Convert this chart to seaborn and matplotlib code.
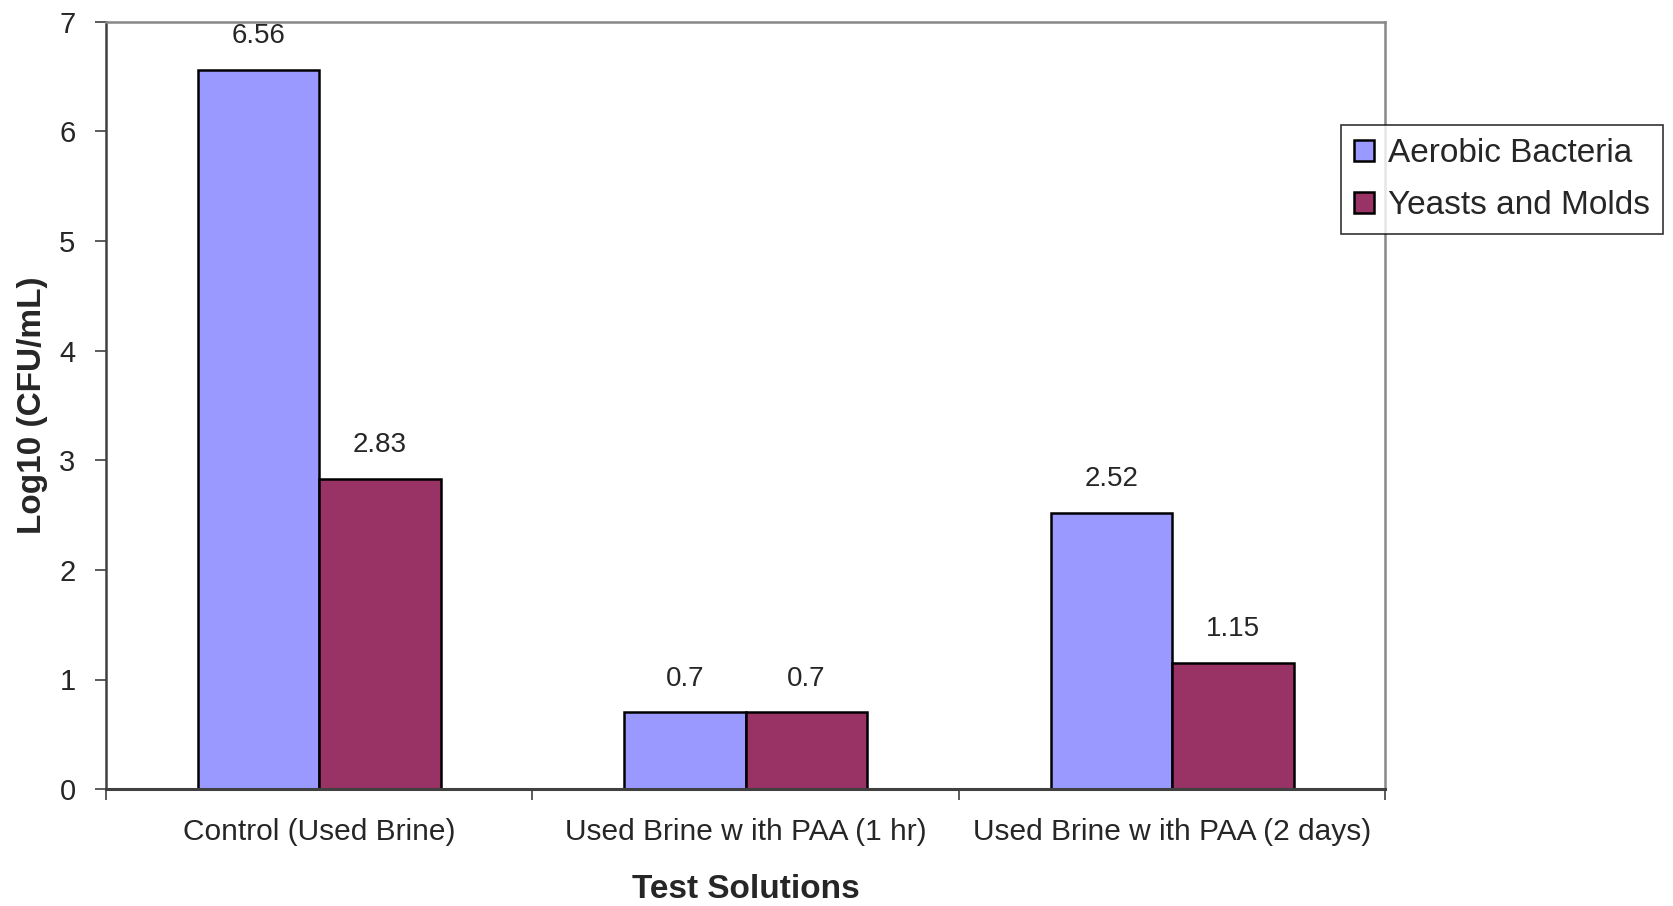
import matplotlib
matplotlib.use("Agg")
import matplotlib.pyplot as plt
import seaborn as sns
import pandas as pd
from matplotlib.patches import Patch

categories = ["Control (Used Brine)", "Used Brine w ith PAA (1 hr)", "Used Brine w ith PAA (2 days)"]
series_names = ["Aerobic Bacteria", "Yeasts and Molds"]
aerobic = [6.56, 0.7, 2.52]
yeasts = [2.83, 0.7, 1.15]
y_ticks = [0, 1, 2, 3, 4, 5, 6, 7]

colors = ["#9999FF", "#993366"]

sns.set_theme(style="white")
plt.rcParams['font.family'] = ['Liberation Sans', 'DejaVu Sans']

df = pd.DataFrame({
    "cat": categories * 2,
    "series": [series_names[0]] * 3 + [series_names[1]] * 3,
    "value": aerobic + yeasts,
})

fig = plt.figure(figsize=(16.73, 9.06), dpi=100)
ax = fig.add_axes([0.0634, 0.129, 0.828 - 0.0634, 0.976 - 0.129])
sns.barplot(data=df, x="cat", y="value", hue="series", order=categories,
            hue_order=series_names, palette=colors, width=0.57,
            edgecolor="black", linewidth=1.8, saturation=1, ax=ax, legend=False)

for cont in ax.containers:
    ax.bar_label(cont, labels=[f"{v:g}" for v in cont.datavalues], padding=15, fontsize=20)

ax.set_xlim(-0.5, 2.5)
ax.set_ylim(0, 7)
ax.set_yticks(y_ticks)
ax.set_yticklabels([str(t) for t in y_ticks], fontsize=21)
ax.set_xticks([0, 1, 2])
ax.set_xticklabels(categories, fontsize=21.5)
ax.set_xticks([-0.5, 0.5, 1.5, 2.5], minor=True)
ax.tick_params(axis="x", which="major", length=0, pad=21)
ax.tick_params(axis="x", which="minor", length=8, width=1.2, direction="out", color="#404040", bottom=True)
ax.tick_params(axis="y", which="major", length=8, width=1.2, direction="out", color="#404040", left=True, pad=14)

ax.set_xlabel("Test Solutions", fontsize=24, fontweight="bold", labelpad=20)
ax.set_ylabel("Log10 (CFU/mL)", fontsize=24, fontweight="bold", labelpad=8)

for side in ["top", "right"]:
    ax.spines[side].set_color("#888888")
    ax.spines[side].set_linewidth(1.8)
ax.spines["left"].set_color("#404040")
ax.spines["left"].set_linewidth(1.8)
ax.spines["bottom"].set_color("#404040")
ax.spines["bottom"].set_linewidth(2.2)

handles = [Patch(facecolor=c, edgecolor="black", linewidth=1.8) for c in colors]
leg = fig.legend(handles, series_names, loc="upper left", bbox_to_anchor=(0.8015, 0.862),
                 fontsize=24, frameon=True, fancybox=False, edgecolor="black",
                 handlelength=0.6, handleheight=0.6, handletextpad=0.4,
                 labelspacing=0.62, borderpad=0.4, borderaxespad=0)
leg.get_frame().set_linewidth(1.2)

fig.savefig("out.png", dpi=100)
